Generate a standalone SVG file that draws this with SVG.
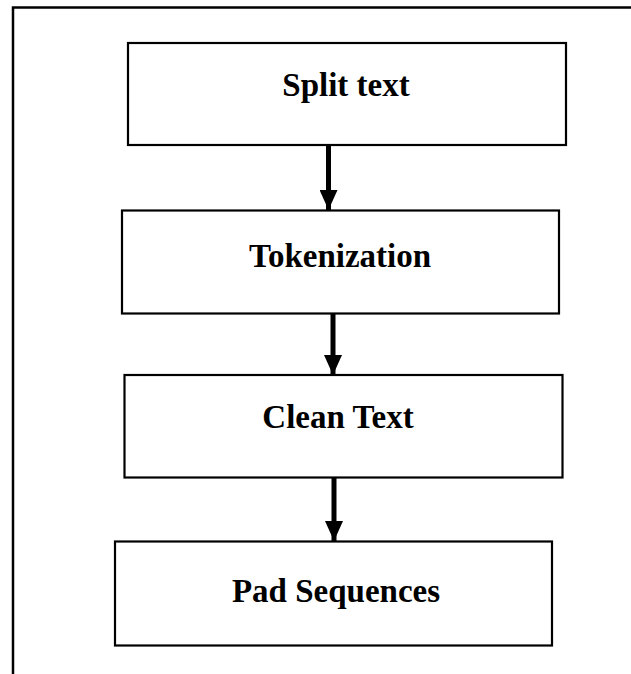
<svg xmlns="http://www.w3.org/2000/svg" width="631" height="674" viewBox="0 0 631 674">
<style>
.box{fill:#fff;stroke:#000;stroke-width:2.2}
.lbl{font-family:"Liberation Serif","Times New Roman",serif;font-weight:bold;font-size:33px;text-anchor:middle;fill:#000}
.conn{stroke:#000;stroke-width:5;fill:none}
.frame{stroke:#000;stroke-width:2.5;fill:none}
</style>
<defs>
<marker id="ah" markerUnits="userSpaceOnUse" markerWidth="22" markerHeight="18" refX="20" refY="9" orient="auto">
<path d="M0,0 L20,9 L0,18 Z" fill="#000"/>
</marker>
</defs>
<rect width="631" height="674" fill="#fff"/>
<path class="frame" d="M13,674 L13,7.5 L631,7.5"/>
<g id="connectors">
<line class="conn" x1="328.5" y1="145" x2="328.5" y2="210" marker-end="url(#ah)"/>
<line class="conn" x1="333" y1="313" x2="333" y2="375" marker-end="url(#ah)"/>
<line class="conn" x1="334" y1="477" x2="334" y2="541" marker-end="url(#ah)"/>
</g>
<g id="split-text">
<rect class="box" x="128" y="43" width="438" height="102"/>
<text class="lbl" x="346" y="96">Split text</text>
</g>
<g id="tokenization">
<rect class="box" x="122" y="210.5" width="437" height="103"/>
<text class="lbl" x="340" y="267">Tokenization</text>
</g>
<g id="clean-text">
<rect class="box" x="124.5" y="375" width="438" height="102.5"/>
<text class="lbl" x="338" y="428">Clean Text</text>
</g>
<g id="pad-sequences">
<rect class="box" x="115" y="541.5" width="437" height="104"/>
<text class="lbl" x="336" y="602">Pad Sequences</text>
</g>
</svg>
